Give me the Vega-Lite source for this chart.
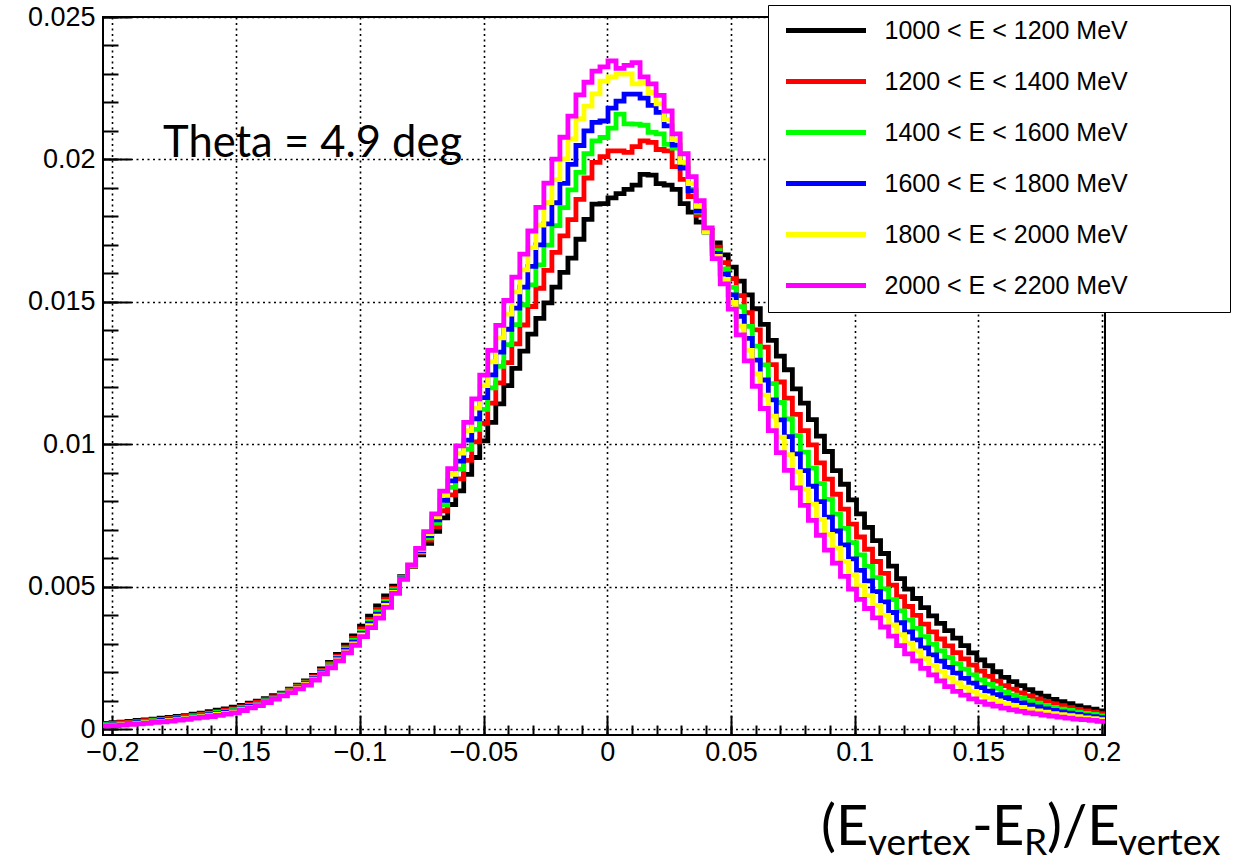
{
"$schema":"https://vega.github.io/schema/vega-lite/v6.json",
"autosize":{"type":"none"},
"padding":{"left":103,"top":17,"right":132,"bottom":131},
"width":1002,"height":718,
"background":"white",
"config":{
 "view":{"stroke":"black","strokeWidth":2},
 "axis":{"labelFont":"Liberation Sans","labelFontSize":27,"labelColor":"black","tickColor":"black","domain":false,"title":null,"labelFlush":false,"labelOverlap":false}
},
"datasets":{"h":[
{"x":-0.2038,"e1000":0.00021,"e1200":0.00019,"e1400":0.00017,"e1600":0.00015,"e1800":0.00013,"e2000":0.00012},
{"x":-0.20056,"e1000":0.00023,"e1200":0.0002,"e1400":0.00018,"e1600":0.00016,"e1800":0.00015,"e2000":0.00013},
{"x":-0.19732,"e1000":0.00025,"e1200":0.00023,"e1400":0.0002,"e1600":0.00018,"e1800":0.00016,"e2000":0.00015},
{"x":-0.19408,"e1000":0.00028,"e1200":0.00025,"e1400":0.00022,"e1600":0.0002,"e1800":0.00018,"e2000":0.00017},
{"x":-0.19084,"e1000":0.00031,"e1200":0.00027,"e1400":0.00025,"e1600":0.00023,"e1800":0.00021,"e2000":0.00019},
{"x":-0.1876,"e1000":0.00033,"e1200":0.0003,"e1400":0.00027,"e1600":0.00025,"e1800":0.00023,"e2000":0.00021},
{"x":-0.18436,"e1000":0.00036,"e1200":0.00033,"e1400":0.0003,"e1600":0.00028,"e1800":0.00026,"e2000":0.00024},
{"x":-0.18112,"e1000":0.00039,"e1200":0.00035,"e1400":0.00033,"e1600":0.00031,"e1800":0.00028,"e2000":0.00026},
{"x":-0.17788,"e1000":0.00042,"e1200":0.00038,"e1400":0.00036,"e1600":0.00034,"e1800":0.00031,"e2000":0.00029},
{"x":-0.17464,"e1000":0.00045,"e1200":0.00042,"e1400":0.00039,"e1600":0.00037,"e1800":0.00034,"e2000":0.00032},
{"x":-0.1714,"e1000":0.00048,"e1200":0.00045,"e1400":0.00042,"e1600":0.0004,"e1800":0.00037,"e2000":0.00035},
{"x":-0.16816,"e1000":0.00053,"e1200":0.00049,"e1400":0.00046,"e1600":0.00043,"e1800":0.00041,"e2000":0.00039},
{"x":-0.16492,"e1000":0.00057,"e1200":0.00053,"e1400":0.0005,"e1600":0.00047,"e1800":0.00044,"e2000":0.00042},
{"x":-0.16168,"e1000":0.00062,"e1200":0.00057,"e1400":0.00054,"e1600":0.00051,"e1800":0.00048,"e2000":0.00045},
{"x":-0.15844,"e1000":0.00067,"e1200":0.00062,"e1400":0.00059,"e1600":0.00055,"e1800":0.00052,"e2000":0.00049},
{"x":-0.1552,"e1000":0.00072,"e1200":0.00067,"e1400":0.00063,"e1600":0.0006,"e1800":0.00056,"e2000":0.00053},
{"x":-0.15196,"e1000":0.00078,"e1200":0.00072,"e1400":0.00068,"e1600":0.00064,"e1800":0.00061,"e2000":0.00058},
{"x":-0.14872,"e1000":0.00084,"e1200":0.00079,"e1400":0.00076,"e1600":0.00072,"e1800":0.00069,"e2000":0.00066},
{"x":-0.14548,"e1000":0.00092,"e1200":0.00087,"e1400":0.00083,"e1600":0.0008,"e1800":0.00077,"e2000":0.00075},
{"x":-0.14224,"e1000":0.00099,"e1200":0.00095,"e1400":0.00091,"e1600":0.00089,"e1800":0.00086,"e2000":0.00083},
{"x":-0.139,"e1000":0.00108,"e1200":0.00104,"e1400":0.00101,"e1600":0.00099,"e1800":0.00096,"e2000":0.00094},
{"x":-0.13576,"e1000":0.00118,"e1200":0.00114,"e1400":0.00112,"e1600":0.0011,"e1800":0.00107,"e2000":0.00106},
{"x":-0.13252,"e1000":0.00127,"e1200":0.00125,"e1400":0.00122,"e1600":0.0012,"e1800":0.00119,"e2000":0.00117},
{"x":-0.12928,"e1000":0.00141,"e1200":0.00138,"e1400":0.00135,"e1600":0.00133,"e1800":0.00131,"e2000":0.00129},
{"x":-0.12604,"e1000":0.00155,"e1200":0.00152,"e1400":0.00149,"e1600":0.00147,"e1800":0.00144,"e2000":0.00142},
{"x":-0.1228,"e1000":0.0017,"e1200":0.00166,"e1400":0.00163,"e1600":0.0016,"e1800":0.00158,"e2000":0.00155},
{"x":-0.11956,"e1000":0.00189,"e1200":0.00185,"e1400":0.00182,"e1600":0.00179,"e1800":0.00176,"e2000":0.00173},
{"x":-0.11632,"e1000":0.00212,"e1200":0.00207,"e1400":0.00204,"e1600":0.00201,"e1800":0.00197,"e2000":0.00195},
{"x":-0.11308,"e1000":0.00235,"e1200":0.0023,"e1400":0.00226,"e1600":0.00222,"e1800":0.00219,"e2000":0.00216},
{"x":-0.10984,"e1000":0.00263,"e1200":0.00257,"e1400":0.00252,"e1600":0.00248,"e1800":0.00244,"e2000":0.0024},
{"x":-0.1066,"e1000":0.00295,"e1200":0.00288,"e1400":0.00282,"e1600":0.00277,"e1800":0.00272,"e2000":0.00268},
{"x":-0.10336,"e1000":0.00328,"e1200":0.00319,"e1400":0.00312,"e1600":0.00306,"e1800":0.003,"e2000":0.00295},
{"x":-0.10012,"e1000":0.00362,"e1200":0.00352,"e1400":0.00344,"e1600":0.00337,"e1800":0.00331,"e2000":0.00325},
{"x":-0.09688,"e1000":0.00397,"e1200":0.00386,"e1400":0.00378,"e1600":0.00371,"e1800":0.00364,"e2000":0.00357},
{"x":-0.09364,"e1000":0.00433,"e1200":0.00421,"e1400":0.00412,"e1600":0.00404,"e1800":0.00397,"e2000":0.0039},
{"x":-0.0904,"e1000":0.00468,"e1200":0.00457,"e1400":0.00449,"e1600":0.00442,"e1800":0.00435,"e2000":0.00428},
{"x":-0.08716,"e1000":0.00502,"e1200":0.00495,"e1400":0.0049,"e1600":0.00485,"e1800":0.00481,"e2000":0.00477},
{"x":-0.08392,"e1000":0.00536,"e1200":0.00533,"e1400":0.00531,"e1600":0.00529,"e1800":0.00527,"e2000":0.00526},
{"x":-0.08068,"e1000":0.00572,"e1200":0.00573,"e1400":0.00574,"e1600":0.00575,"e1800":0.00576,"e2000":0.00577},
{"x":-0.07744,"e1000":0.00612,"e1200":0.00619,"e1400":0.00623,"e1600":0.00627,"e1800":0.00632,"e2000":0.00635},
{"x":-0.0742,"e1000":0.00653,"e1200":0.00664,"e1400":0.00672,"e1600":0.0068,"e1800":0.00687,"e2000":0.00694},
{"x":-0.07096,"e1000":0.00695,"e1200":0.00711,"e1400":0.00724,"e1600":0.00735,"e1800":0.00746,"e2000":0.00756},
{"x":-0.06772,"e1000":0.00742,"e1200":0.00767,"e1400":0.00787,"e1600":0.00804,"e1800":0.00821,"e2000":0.00836},
{"x":-0.06448,"e1000":0.00789,"e1200":0.00823,"e1400":0.00849,"e1600":0.00872,"e1800":0.00895,"e2000":0.00915},
{"x":-0.06124,"e1000":0.00837,"e1200":0.00879,"e1400":0.00913,"e1600":0.00941,"e1800":0.00969,"e2000":0.00995},
{"x":-0.058,"e1000":0.00895,"e1200":0.00944,"e1400":0.00983,"e1600":0.01015,"e1800":0.01048,"e2000":0.01077},
{"x":-0.05476,"e1000":0.00954,"e1200":0.01009,"e1400":0.01053,"e1600":0.0109,"e1800":0.01127,"e2000":0.0116},
{"x":-0.05152,"e1000":0.01012,"e1200":0.01074,"e1400":0.01123,"e1600":0.01164,"e1800":0.01206,"e2000":0.01243},
{"x":-0.04828,"e1000":0.01077,"e1200":0.01145,"e1400":0.01198,"e1600":0.01244,"e1800":0.0129,"e2000":0.0133},
{"x":-0.04504,"e1000":0.01142,"e1200":0.01216,"e1400":0.01274,"e1600":0.01324,"e1800":0.01374,"e2000":0.01418},
{"x":-0.0418,"e1000":0.01206,"e1200":0.01287,"e1400":0.0135,"e1600":0.01404,"e1800":0.01457,"e2000":0.01505},
{"x":-0.03856,"e1000":0.01267,"e1200":0.01353,"e1400":0.0142,"e1600":0.01478,"e1800":0.01535,"e2000":0.01587},
{"x":-0.03532,"e1000":0.01327,"e1200":0.01419,"e1400":0.0149,"e1600":0.01552,"e1800":0.01613,"e2000":0.01668},
{"x":-0.03208,"e1000":0.01387,"e1200":0.01484,"e1400":0.0156,"e1600":0.01625,"e1800":0.01691,"e2000":0.01749},
{"x":-0.02884,"e1000":0.01442,"e1200":0.01548,"e1400":0.0163,"e1600":0.017,"e1800":0.0177,"e2000":0.01832},
{"x":-0.0256,"e1000":0.01497,"e1200":0.01611,"e1400":0.01699,"e1600":0.01774,"e1800":0.01849,"e2000":0.01917},
{"x":-0.02236,"e1000":0.01552,"e1200":0.01674,"e1400":0.01768,"e1600":0.01848,"e1800":0.01929,"e2000":0.02001},
{"x":-0.01912,"e1000":0.01604,"e1200":0.01732,"e1400":0.01831,"e1600":0.01916,"e1800":0.02002,"e2000":0.02078},
{"x":-0.01588,"e1000":0.01654,"e1200":0.01789,"e1400":0.01893,"e1600":0.01983,"e1800":0.02072,"e2000":0.02152},
{"x":-0.01264,"e1000":0.0172,"e1200":0.0186,"e1400":0.01955,"e1600":0.02049,"e1800":0.02143,"e2000":0.02227},
{"x":-0.0094,"e1000":0.0179,"e1200":0.01935,"e1400":0.0202,"e1600":0.021,"e1800":0.02187,"e2000":0.02271},
{"x":-0.00616,"e1000":0.01843,"e1200":0.0199,"e1400":0.02065,"e1600":0.0213,"e1800":0.0223,"e2000":0.0231},
{"x":-0.00292,"e1000":0.01845,"e1200":0.0201,"e1400":0.02077,"e1600":0.02135,"e1800":0.02275,"e2000":0.02325},
{"x":0.00032,"e1000":0.01865,"e1200":0.0203,"e1400":0.0211,"e1600":0.0218,"e1800":0.0229,"e2000":0.02346},
{"x":0.00356,"e1000":0.0188,"e1200":0.0203,"e1400":0.02159,"e1600":0.02205,"e1800":0.023,"e2000":0.0232},
{"x":0.0068,"e1000":0.01895,"e1200":0.02025,"e1400":0.02125,"e1600":0.02229,"e1800":0.023,"e2000":0.0233},
{"x":0.01004,"e1000":0.0191,"e1200":0.02045,"e1400":0.02124,"e1600":0.02229,"e1800":0.02265,"e2000":0.0234},
{"x":0.01328,"e1000":0.01948,"e1200":0.02065,"e1400":0.0212,"e1600":0.02215,"e1800":0.0227,"e2000":0.0229},
{"x":0.01652,"e1000":0.01945,"e1200":0.0206,"e1400":0.02095,"e1600":0.0219,"e1800":0.02235,"e2000":0.02265},
{"x":0.01976,"e1000":0.01915,"e1200":0.02035,"e1400":0.0209,"e1600":0.02165,"e1800":0.02195,"e2000":0.02225},
{"x":0.023,"e1000":0.0191,"e1200":0.0203,"e1400":0.02053,"e1600":0.02118,"e1800":0.0214,"e2000":0.0217},
{"x":0.02624,"e1000":0.01895,"e1200":0.01975,"e1400":0.0204,"e1600":0.0205,"e1800":0.0207,"e2000":0.0209},
{"x":0.02948,"e1000":0.01845,"e1200":0.0193,"e1400":0.01985,"e1600":0.0197,"e1800":0.0199,"e2000":0.0202},
{"x":0.03272,"e1000":0.01815,"e1200":0.0187,"e1400":0.01895,"e1600":0.0189,"e1800":0.01915,"e2000":0.0194},
{"x":0.03596,"e1000":0.0178,"e1200":0.01805,"e1400":0.01815,"e1600":0.0182,"e1800":0.01835,"e2000":0.01855},
{"x":0.0392,"e1000":0.0175,"e1200":0.01748,"e1400":0.01745,"e1600":0.01745,"e1800":0.01745,"e2000":0.0176},
{"x":0.04244,"e1000":0.01707,"e1200":0.01692,"e1400":0.0168,"e1600":0.0167,"e1800":0.0166,"e2000":0.01652},
{"x":0.04568,"e1000":0.01665,"e1200":0.01638,"e1400":0.01616,"e1600":0.01598,"e1800":0.01579,"e2000":0.01563},
{"x":0.04892,"e1000":0.01622,"e1200":0.01582,"e1400":0.01551,"e1600":0.01525,"e1800":0.01498,"e2000":0.01475},
{"x":0.05216,"e1000":0.01573,"e1200":0.01522,"e1400":0.01483,"e1600":0.01449,"e1800":0.01415,"e2000":0.01384},
{"x":0.0554,"e1000":0.01525,"e1200":0.01462,"e1400":0.01414,"e1600":0.01372,"e1800":0.0133,"e2000":0.01293},
{"x":0.05864,"e1000":0.01476,"e1200":0.01402,"e1400":0.01345,"e1600":0.01296,"e1800":0.01247,"e2000":0.01204},
{"x":0.06188,"e1000":0.01421,"e1200":0.01341,"e1400":0.01279,"e1600":0.01226,"e1800":0.01173,"e2000":0.01126},
{"x":0.06512,"e1000":0.01365,"e1200":0.0128,"e1400":0.01213,"e1600":0.01156,"e1800":0.01099,"e2000":0.01048},
{"x":0.06836,"e1000":0.0131,"e1200":0.01219,"e1400":0.01147,"e1600":0.01086,"e1800":0.01025,"e2000":0.00971},
{"x":0.0716,"e1000":0.01262,"e1200":0.01162,"e1400":0.01089,"e1600":0.01027,"e1800":0.00964,"e2000":0.00909},
{"x":0.07484,"e1000":0.01195,"e1200":0.01105,"e1400":0.01031,"e1600":0.00967,"e1800":0.00904,"e2000":0.00847},
{"x":0.07808,"e1000":0.01145,"e1200":0.01048,"e1400":0.00973,"e1600":0.00908,"e1800":0.00843,"e2000":0.00786},
{"x":0.08132,"e1000":0.01087,"e1200":0.00998,"e1400":0.00917,"e1600":0.00853,"e1800":0.0079,"e2000":0.00733},
{"x":0.08456,"e1000":0.01029,"e1200":0.00935,"e1400":0.00862,"e1600":0.00799,"e1800":0.00737,"e2000":0.00681},
{"x":0.0878,"e1000":0.00975,"e1200":0.00878,"e1400":0.00807,"e1600":0.00745,"e1800":0.00684,"e2000":0.00629},
{"x":0.09104,"e1000":0.00908,"e1200":0.00825,"e1400":0.00755,"e1600":0.00696,"e1800":0.00636,"e2000":0.00583},
{"x":0.09428,"e1000":0.0086,"e1200":0.00773,"e1400":0.00705,"e1600":0.00647,"e1800":0.00589,"e2000":0.00537},
{"x":0.09752,"e1000":0.00805,"e1200":0.0072,"e1400":0.00655,"e1600":0.00598,"e1800":0.00542,"e2000":0.00492},
{"x":0.10076,"e1000":0.00756,"e1200":0.00675,"e1400":0.00612,"e1600":0.00558,"e1800":0.00504,"e2000":0.00456},
{"x":0.104,"e1000":0.00709,"e1200":0.00632,"e1400":0.00572,"e1600":0.00521,"e1800":0.00469,"e2000":0.00424},
{"x":0.10724,"e1000":0.00662,"e1200":0.00589,"e1400":0.00532,"e1600":0.00483,"e1800":0.00435,"e2000":0.00391},
{"x":0.11048,"e1000":0.00617,"e1200":0.00547,"e1400":0.00493,"e1600":0.00447,"e1800":0.004,"e2000":0.00359},
{"x":0.11372,"e1000":0.00573,"e1200":0.00506,"e1400":0.00455,"e1600":0.0041,"e1800":0.00366,"e2000":0.00327},
{"x":0.11696,"e1000":0.00529,"e1200":0.00466,"e1400":0.00416,"e1600":0.00374,"e1800":0.00332,"e2000":0.00294},
{"x":0.1202,"e1000":0.00492,"e1200":0.00431,"e1400":0.00383,"e1600":0.00342,"e1800":0.00302,"e2000":0.00265},
{"x":0.12344,"e1000":0.00459,"e1200":0.004,"e1400":0.00354,"e1600":0.00314,"e1800":0.00275,"e2000":0.0024},
{"x":0.12668,"e1000":0.00427,"e1200":0.00369,"e1400":0.00325,"e1600":0.00286,"e1800":0.00248,"e2000":0.00214},
{"x":0.12992,"e1000":0.00398,"e1200":0.00342,"e1400":0.00298,"e1600":0.00261,"e1800":0.00224,"e2000":0.00191},
{"x":0.13316,"e1000":0.00372,"e1200":0.00317,"e1400":0.00275,"e1600":0.00239,"e1800":0.00203,"e2000":0.0017},
{"x":0.1364,"e1000":0.00346,"e1200":0.00293,"e1400":0.00252,"e1600":0.00217,"e1800":0.00182,"e2000":0.0015},
{"x":0.13964,"e1000":0.0032,"e1200":0.00269,"e1400":0.0023,"e1600":0.00197,"e1800":0.00163,"e2000":0.00133},
{"x":0.14288,"e1000":0.00294,"e1200":0.00247,"e1400":0.00211,"e1600":0.00179,"e1800":0.00148,"e2000":0.0012},
{"x":0.14612,"e1000":0.00268,"e1200":0.00225,"e1400":0.00191,"e1600":0.00162,"e1800":0.00133,"e2000":0.00107},
{"x":0.14936,"e1000":0.00244,"e1200":0.00204,"e1400":0.00173,"e1600":0.00146,"e1800":0.00119,"e2000":0.00096},
{"x":0.1526,"e1000":0.00223,"e1200":0.00186,"e1400":0.00158,"e1600":0.00134,"e1800":0.0011,"e2000":0.00088},
{"x":0.15584,"e1000":0.00202,"e1200":0.00169,"e1400":0.00144,"e1600":0.00122,"e1800":0.001,"e2000":0.00081},
{"x":0.15908,"e1000":0.00182,"e1200":0.00153,"e1400":0.0013,"e1600":0.00111,"e1800":0.00091,"e2000":0.00074},
{"x":0.16232,"e1000":0.00167,"e1200":0.00141,"e1400":0.0012,"e1600":0.00102,"e1800":0.00084,"e2000":0.00068},
{"x":0.16556,"e1000":0.00153,"e1200":0.00128,"e1400":0.0011,"e1600":0.00093,"e1800":0.00077,"e2000":0.00063},
{"x":0.1688,"e1000":0.00139,"e1200":0.00117,"e1400":0.001,"e1600":0.00085,"e1800":0.00071,"e2000":0.00058},
{"x":0.17204,"e1000":0.00127,"e1200":0.00107,"e1400":0.00092,"e1600":0.00079,"e1800":0.00065,"e2000":0.00054},
{"x":0.17528,"e1000":0.00116,"e1200":0.00098,"e1400":0.00084,"e1600":0.00072,"e1800":0.0006,"e2000":0.0005},
{"x":0.17852,"e1000":0.00105,"e1200":0.00089,"e1400":0.00077,"e1600":0.00066,"e1800":0.00055,"e2000":0.00046},
{"x":0.18176,"e1000":0.00097,"e1200":0.00083,"e1400":0.00071,"e1600":0.00061,"e1800":0.00051,"e2000":0.00043},
{"x":0.185,"e1000":0.0009,"e1200":0.00076,"e1400":0.00066,"e1600":0.00057,"e1800":0.00048,"e2000":0.00039},
{"x":0.18824,"e1000":0.00082,"e1200":0.0007,"e1400":0.0006,"e1600":0.00052,"e1800":0.00044,"e2000":0.00036},
{"x":0.19148,"e1000":0.00076,"e1200":0.00065,"e1400":0.00056,"e1600":0.00048,"e1800":0.0004,"e2000":0.00034},
{"x":0.19472,"e1000":0.00071,"e1200":0.0006,"e1400":0.00052,"e1600":0.00044,"e1800":0.00037,"e2000":0.00031},
{"x":0.19796,"e1000":0.00065,"e1200":0.00055,"e1400":0.00047,"e1600":0.00041,"e1800":0.00034,"e2000":0.00028},
{"x":0.2012,"e1000":0.00065,"e1200":0.00055,"e1400":0.00047,"e1600":0.00041,"e1800":0.00034,"e2000":0.00028}
]},
"layer":[
 {
  "data":{"name":"h"},
  "transform":[{"fold":["e1000","e1200","e1400","e1600","e1800","e2000"],"as":["range","value"]}],
  "mark":{"type":"line","interpolate":"step-after","strokeWidth":4.8,"strokeJoin":"miter"},
  "encoding":{
   "x":{"field":"x","type":"quantitative","scale":{"domain":[-0.2038,0.2012],"nice":false,"zero":false},
    "axis":{"orient":"bottom","values":[-0.2,-0.15,-0.1,-0.05,0,0.05,0.1,0.15,0.2],"format":"~g","grid":true,"gridColor":"black","gridDash":[2,3.5],"gridWidth":1.6,"gridOpacity":1,"tickSize":-20,"tickWidth":2,"labelPadding":24}},
   "y":{"field":"value","type":"quantitative","scale":{"domain":[-0.0002,0.025],"nice":false,"zero":false},
    "axis":{"orient":"left","values":[0,0.005,0.01,0.015,0.02,0.025],"format":"~g","grid":true,"gridColor":"black","gridDash":[2,3.5],"gridWidth":1.6,"gridOpacity":1,"tickSize":-28,"tickWidth":2,"labelPadding":36}},
   "color":{"field":"range","type":"nominal",
    "scale":{"domain":["e1000","e1200","e1400","e1600","e1800","e2000"],"range":["#000000","#ff0000","#00ff00","#0000ff","#ffff00","#ff00ff"]},
    "legend":{"title":"MMMMM","titleOrient":"right","titleFontSize":20,"titleFont":"Liberation Sans","titleOpacity":0,"titlePadding":5,
     "orient":"none","legendX":665,"legendY":-12,"symbolType":"M-4,0H4","symbolSize":400,"symbolStrokeWidth":5,"symbolOffset":32.5,"labelOffset":46,"labelFont":"Liberation Sans","labelFontSize":25,"labelColor":"black","labelLimit":600,"padding":13,"rowPadding":25,"strokeColor":"black","fillColor":"white",
     "labelExpr":"substring(datum.label,1) + ' < E < ' + (toNumber(substring(datum.label,1)) + 200) + ' MeV'"}}
  }
 },
 {
  "data":{"name":"h"},
  "mark":{"type":"point","opacity":0},
  "encoding":{
   "x":{"field":"x","type":"quantitative","scale":{"domain":[-0.2038,0.2012],"nice":false,"zero":false},
    "axis":{"orient":"bottom","values":[-0.2,-0.19,-0.18,-0.17,-0.16,-0.15,-0.14,-0.13,-0.12,-0.11,-0.1,-0.09,-0.08,-0.07,-0.06,-0.05,-0.04,-0.03,-0.02,-0.01,0,0.01,0.02,0.03,0.04,0.05,0.06,0.07,0.08,0.09,0.1,0.11,0.12,0.13,0.14,0.15,0.16,0.17,0.18,0.19,0.2],"labels":false,"grid":false,"tickSize":-10,"tickWidth":2}},
   "y":{"field":"e1000","type":"quantitative","scale":{"domain":[-0.0002,0.025],"nice":false,"zero":false},
    "axis":{"orient":"left","values":[0,0.001,0.002,0.003,0.004,0.005,0.006,0.007,0.008,0.009,0.01,0.011,0.012,0.013,0.014,0.015,0.016,0.017,0.018,0.019,0.02,0.021,0.022,0.023,0.024,0.025],"labels":false,"grid":false,"tickSize":-15,"tickWidth":2}}
  }
 },
 {
  "data":{"values":[{"x":-0.1795,"y":0.02009,"label":"Theta = 4.9 deg"}]},
  "mark":{"type":"text","font":"Lato","fontSize":43.5,"align":"left","baseline":"alphabetic","color":"black"},
  "encoding":{
   "x":{"field":"x","type":"quantitative","scale":{"domain":[-0.2038,0.2012],"nice":false,"zero":false},"axis":null},
   "y":{"field":"y","type":"quantitative","scale":{"domain":[-0.0002,0.025],"nice":false,"zero":false},"axis":null},
   "text":{"field":"label"}
  }
 },
 {
  "data":{"values":[{"x":0.08642,"y":-0.00406,"t":"(E"},{"x":0.14745,"y":-0.00406,"t":"-"},{"x":0.15554,"y":-0.00406,"t":"E"},{"x":0.17777,"y":-0.00406,"t":")/E"}]},
  "mark":{"type":"text","font":"Lato","fontSize":56,"align":"left","baseline":"alphabetic","color":"black"},
  "encoding":{
   "x":{"field":"x","type":"quantitative","scale":{"domain":[-0.2038,0.2012],"nice":false,"zero":false},"axis":null},
   "y":{"field":"y","type":"quantitative","scale":{"domain":[-0.0002,0.025],"nice":false,"zero":false},"axis":null},
   "text":{"field":"t"}
  }
 },
 {
  "data":{"values":[{"x":0.10542,"y":-0.00441,"t":"vertex"},{"x":0.16847,"y":-0.00441,"t":"R"},{"x":0.20647,"y":-0.00441,"t":"vertex"}]},
  "mark":{"type":"text","font":"Lato","fontSize":37,"align":"left","baseline":"alphabetic","color":"black"},
  "encoding":{
   "x":{"field":"x","type":"quantitative","scale":{"domain":[-0.2038,0.2012],"nice":false,"zero":false},"axis":null},
   "y":{"field":"y","type":"quantitative","scale":{"domain":[-0.0002,0.025],"nice":false,"zero":false},"axis":null},
   "text":{"field":"t"}
  }
 }
],
"resolve":{"axis":{"x":"independent","y":"independent"}}
}
